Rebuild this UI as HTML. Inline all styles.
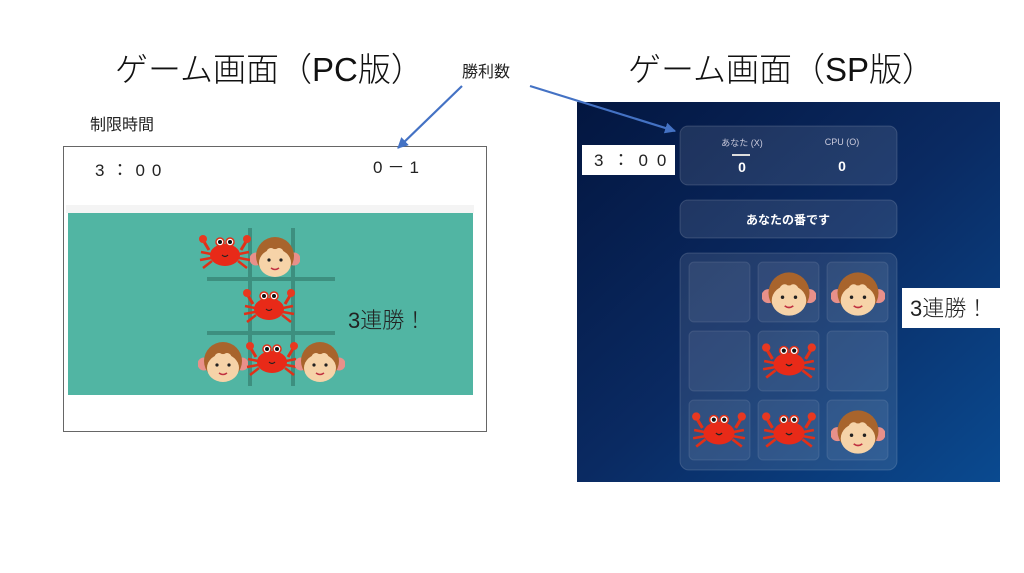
<!DOCTYPE html>
<html><head><meta charset="utf-8"><style>
html,body{margin:0;padding:0;background:#fff;}
svg{display:block;font-family:"Liberation Sans","Noto Sans CJK JP",sans-serif;}
</style></head><body>
<svg width="1024" height="573" viewBox="0 0 1024 573" xmlns="http://www.w3.org/2000/svg">
<defs>
<symbol id="m" viewBox="0 0 50 44">
<circle cx="6" cy="24" r="6.5" fill="#e8908a"/><circle cx="44" cy="24" r="6.5" fill="#e8908a"/>
<circle cx="25" cy="21" r="19" fill="#a8642c"/>
<ellipse cx="25" cy="28" rx="16" ry="14" fill="#f6d3a8"/>
<ellipse cx="21" cy="19" rx="5" ry="6" fill="#f6d3a8"/><ellipse cx="29" cy="19" rx="5" ry="6" fill="#f6d3a8"/>
<circle cx="19" cy="25" r="1.6" fill="#222"/><circle cx="31" cy="25" r="1.6" fill="#222"/>
<path d="M21 33 Q25 36 29 33" stroke="#c03040" stroke-width="1.5" fill="none"/>
</symbol>
<symbol id="c" viewBox="0 0 56 40">
<g stroke="#e03018" stroke-width="2.5" fill="none"><path d="M14 22 L4 20 M14 26 L3 28 M15 29 L6 36 M42 22 L52 20 M42 26 L53 28 M41 29 L50 36"/></g>
<path d="M12 18 L6 8 M44 18 L50 8" stroke="#e03018" stroke-width="3"/>
<circle cx="6" cy="7" r="4" fill="#e83820"/><circle cx="50" cy="7" r="4" fill="#e83820"/>
<ellipse cx="28" cy="23" rx="15" ry="11" fill="#e82a18"/>
<circle cx="23" cy="10" r="4" fill="#fff" stroke="#e03018" stroke-width="1.5"/><circle cx="33" cy="10" r="4" fill="#fff" stroke="#e03018" stroke-width="1.5"/>
<circle cx="23" cy="10" r="2" fill="#111"/><circle cx="33" cy="10" r="2" fill="#111"/>
<path d="M25 23 Q28 26 31 23" stroke="#222" stroke-width="1.2" fill="none"/>
</symbol>
<linearGradient id="bg" x1="0" y1="0" x2="1" y2="1">
<stop offset="0" stop-color="#031640"/><stop offset="0.5" stop-color="#0a2a62"/><stop offset="1" stop-color="#0a4a90"/></linearGradient>
<marker id="ah" viewBox="0 0 10 10" refX="9" refY="5" markerWidth="5" markerHeight="5" orient="auto"><path d="M0 0 L10 5 L0 10 z" fill="#4472c4"/></marker>
</defs>

<text x="115" y="81" font-size="33" fill="#111" font-weight="300">ゲーム画面（PC版）</text>
<text x="628" y="81" font-size="33" fill="#111" font-weight="300">ゲーム画面（SP版）</text>
<text x="462" y="77" font-size="16" fill="#222">勝利数</text>
<text x="90" y="130" font-size="16" fill="#222">制限時間</text>

<!-- PC -->
<rect x="63.5" y="146.5" width="423" height="285" fill="#fff" stroke="#666" stroke-width="1"/>
<text x="95" y="176" font-size="17" fill="#222" letter-spacing="7">3：00</text>
<text x="373" y="173" font-size="17" fill="#222" letter-spacing="5">0－1</text>
<rect x="66" y="205" width="408" height="8" fill="#f4f4f4"/>
<rect x="68" y="213" width="405" height="182" fill="#51b5a3"/>
<g fill="#3d8f7f"><rect x="248" y="228" width="4" height="158"/><rect x="291" y="228" width="4" height="158"/>
<rect x="207" y="277" width="128" height="4"/><rect x="207" y="331" width="128" height="4"/></g>
<use href="#c" x="197" y="232" width="56" height="40"/>
<use href="#m" x="250" y="235" width="50" height="44"/>
<use href="#c" x="241" y="286" width="56" height="40"/>
<use href="#m" x="198" y="340" width="50" height="44"/>
<use href="#c" x="244" y="339" width="56" height="40"/>
<use href="#m" x="295" y="340" width="50" height="44"/>
<text x="348" y="328" font-size="22" fill="#222" font-weight="300">3連勝！</text>

<!-- SP -->
<rect x="577" y="102" width="423" height="380" fill="url(#bg)"/>
<g fill="#ffffff" fill-opacity="0.1" stroke="#ffffff" stroke-opacity="0.15">
<rect x="680" y="126" width="217" height="59" rx="8"/>
<rect x="680" y="200" width="217" height="38" rx="8"/>
<rect x="680" y="253" width="217" height="217" rx="9"/>
</g>
<g fill="#ffffff" fill-opacity="0.07" stroke="#ffffff" stroke-opacity="0.1">
<rect x="689" y="262" width="61" height="60" rx="5"/><rect x="758" y="262" width="61" height="60" rx="5"/><rect x="827" y="262" width="61" height="60" rx="5"/>
<rect x="689" y="331" width="61" height="60" rx="5"/><rect x="758" y="331" width="61" height="60" rx="5"/><rect x="827" y="331" width="61" height="60" rx="5"/>
<rect x="689" y="400" width="61" height="60" rx="5"/><rect x="758" y="400" width="61" height="60" rx="5"/><rect x="827" y="400" width="61" height="60" rx="5"/>
</g>
<text x="742" y="146" font-size="9" fill="#ccd" text-anchor="middle">あなた (X)</text>
<text x="842" y="145" font-size="9" fill="#ccd" text-anchor="middle">CPU (O)</text>
<rect x="732" y="154" width="18" height="2" fill="#ddd"/>
<text x="742" y="172" font-size="14" font-weight="bold" fill="#fff" text-anchor="middle">0</text>
<text x="842" y="171" font-size="14" font-weight="bold" fill="#fff" text-anchor="middle">0</text>
<text x="788" y="224" font-size="12" font-weight="bold" fill="#fff" text-anchor="middle">あなたの番です</text>
<rect x="582" y="145" width="93" height="30" fill="#fff"/>
<text x="594" y="166" font-size="17" fill="#222" letter-spacing="9">3：00</text>
<use href="#m" x="762" y="270" width="54" height="48"/>
<use href="#m" x="831" y="270" width="54" height="48"/>
<use href="#c" x="760" y="340" width="58" height="42"/>
<use href="#c" x="690" y="409" width="58" height="42"/>
<use href="#c" x="760" y="409" width="58" height="42"/>
<use href="#m" x="831" y="408" width="54" height="48"/>
<rect x="902" y="288" width="98" height="40" fill="#fff"/>
<text x="910" y="316" font-size="22" fill="#222" font-weight="300">3連勝！</text>

<line x1="462" y1="86" x2="398" y2="148" stroke="#4472c4" stroke-width="2.2" marker-end="url(#ah)"/>
<line x1="530" y1="86" x2="675" y2="131" stroke="#4472c4" stroke-width="2.2" marker-end="url(#ah)"/>
</svg>
</body></html>
